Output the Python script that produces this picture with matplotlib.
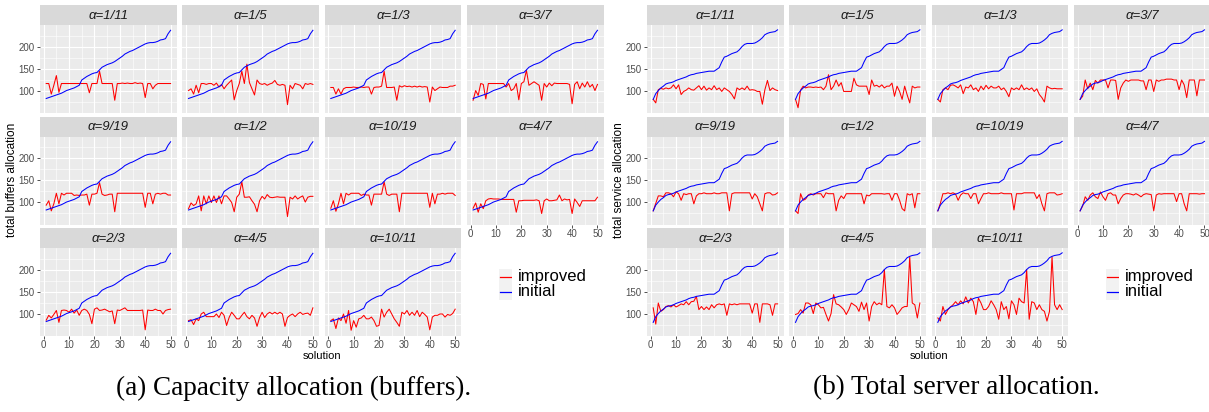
import numpy as np
import matplotlib.pyplot as plt

plt.rcParams['font.family'] = ['Liberation Sans', 'DejaVu Sans']

W, H = 1209, 412

solution = np.arange(1, 51)
alphas = ['1/11', '1/5', '1/3', '3/7', '9/19', '1/2', '10/19', '4/7', '2/3', '4/5', '10/11']

# (a) buffers: initial solution (same in every facet)
buf_initial = [82, 84, 86, 88, 90, 92, 94, 97, 100, 102,
               104, 106, 109, 112, 124, 128, 132, 135, 138, 140,
               141, 147, 153, 156, 159, 161, 163, 166, 170, 174,
               178, 183, 186, 189, 191, 194, 197, 200, 203, 206,
               208, 209, 209, 210, 212, 215, 216, 218, 229, 237]

buf_1_11 = [116, 116, 92, 112, 134, 96, 116, 116, 116, 116,
            116, 116, 116, 116, 116, 116, 116, 95, 116, 116,
            116, 144, 116, 116, 116, 116, 116, 78, 116, 116,
            117, 116, 117, 116, 116, 118, 116, 117, 116, 84,
            116, 116, 104, 112, 116, 116, 116, 116, 116, 116]
buf_1_5 = [100, 104, 92, 112, 95, 116, 116, 114, 116, 116,
           112, 117, 108, 114, 104, 112, 118, 124, 79, 100,
           116, 144, 116, 160, 118, 104, 90, 124, 116, 114,
           116, 112, 115, 117, 123, 114, 112, 114, 112, 68,
           112, 104, 116, 114, 112, 104, 116, 114, 116, 114]
buf_1_3 = [107, 107, 92, 104, 92, 104, 107, 107, 107, 108,
           107, 107, 108, 107, 108, 108, 92, 107, 108, 108,
           110, 144, 107, 107, 107, 108, 78, 111, 108, 111,
           109, 110, 108, 110, 108, 110, 108, 109, 108, 74,
           108, 100, 104, 108, 107, 107, 107, 110, 110, 112]
buf_3_7 = [78, 100, 89, 116, 114, 81, 116, 116, 116, 116,
           116, 116, 116, 108, 116, 100, 104, 116, 79, 116,
           120, 146, 112, 116, 120, 116, 112, 78, 116, 108,
           117, 111, 117, 116, 116, 116, 116, 116, 114, 70,
           114, 120, 104, 117, 108, 120, 108, 114, 100, 114]
buf_9_19 = [93, 103, 80, 96, 120, 96, 120, 116, 120, 120,
            120, 115, 116, 115, 116, 116, 118, 93, 118, 118,
            120, 144, 118, 115, 116, 118, 118, 78, 120, 120,
            120, 120, 120, 120, 120, 120, 120, 120, 120, 88,
            120, 120, 96, 118, 120, 118, 120, 120, 116, 116]
buf_1_2 = [85, 98, 92, 96, 114, 80, 114, 96, 114, 99,
           114, 99, 114, 96, 114, 114, 107, 99, 78, 111,
           118, 146, 111, 111, 112, 103, 95, 78, 103, 113,
           107, 117, 111, 110, 111, 112, 111, 111, 111, 67,
           111, 107, 114, 107, 111, 114, 100, 111, 113, 113]
buf_10_19 = [86, 103, 79, 96, 120, 96, 120, 116, 120, 120,
             120, 120, 115, 118, 116, 116, 93, 118, 118, 118,
             118, 146, 118, 115, 118, 118, 118, 78, 120, 120,
             120, 120, 120, 120, 120, 120, 120, 120, 120, 88,
             120, 96, 118, 118, 120, 118, 120, 120, 120, 115]
buf_4_7 = [86, 98, 77, 96, 85, 103, 107, 108, 107, 107,
           107, 106, 106, 106, 106, 106, 106, 77, 103, 103,
           104, 104, 104, 104, 104, 105, 103, 74, 103, 107,
           103, 103, 104, 105, 116, 103, 107, 105, 106, 74,
           107, 99, 90, 103, 103, 103, 103, 103, 103, 111]
buf_2_3 = [85, 96, 90, 98, 107, 80, 107, 108, 107, 103,
           110, 101, 108, 96, 107, 110, 107, 98, 77, 110,
           113, 107, 108, 110, 107, 104, 106, 77, 108, 107,
           110, 113, 107, 107, 107, 107, 107, 107, 108, 63,
           108, 107, 107, 110, 107, 107, 99, 107, 109, 110]
buf_4_5 = [84, 86, 75, 88, 84, 99, 103, 93, 93, 93,
           93, 99, 91, 103, 96, 73, 91, 103, 96, 88,
           88, 96, 103, 93, 88, 96, 90, 71, 91, 103,
           91, 99, 103, 99, 103, 99, 103, 99, 71, 91,
           96, 99, 93, 99, 103, 98, 100, 101, 96, 113]
buf_10_11 = [84, 88, 66, 90, 84, 99, 78, 107, 62, 84,
             69, 88, 90, 96, 88, 88, 92, 84, 71, 73,
             110, 92, 103, 110, 99, 88, 80, 71, 103, 99,
             107, 96, 103, 96, 107, 93, 103, 98, 92, 63,
             92, 96, 96, 99, 99, 92, 98, 96, 100, 110]

# (b) total server allocation
srv_initial = [80, 93, 100, 106, 110, 115, 117, 118, 120, 123,
               125, 127, 129, 131, 134, 136, 137, 139, 140, 141,
               142, 143, 144, 144, 144, 148, 152, 165, 176, 178,
               181, 184, 186, 188, 193, 200, 205, 207, 207, 207,
               208, 211, 215, 220, 227, 230, 232, 233, 234, 238]

srv_1_11 = [80, 72, 102, 105, 103, 106, 104, 106, 113, 104,
            113, 91, 98, 101, 106, 102, 101, 106, 111, 102,
            110, 101, 106, 102, 111, 102, 106, 98, 106, 102,
            98, 91, 81, 106, 102, 106, 102, 110, 101, 102,
            101, 98, 98, 69, 102, 123, 100, 106, 102, 100]
srv_1_5 = [80, 61, 101, 110, 106, 108, 108, 107, 108, 107,
           108, 102, 110, 136, 102, 110, 124, 110, 118, 98,
           98, 98, 98, 128, 113, 110, 110, 110, 110, 91,
           124, 110, 112, 108, 113, 106, 110, 110, 117, 87,
           110, 98, 80, 110, 90, 72, 110, 106, 108, 108]
srv_1_3 = [80, 74, 102, 106, 102, 112, 113, 110, 106, 113,
           93, 108, 106, 113, 102, 106, 98, 110, 102, 112,
           104, 110, 106, 106, 110, 102, 106, 98, 86, 106,
           102, 106, 102, 113, 102, 106, 102, 106, 98, 104,
           91, 84, 74, 110, 106, 104, 105, 104, 104, 104]
srv_3_7 = [80, 87, 124, 104, 117, 102, 123, 117, 124, 124,
           124, 106, 124, 124, 123, 80, 106, 117, 124, 121,
           124, 124, 124, 124, 122, 122, 102, 124, 124, 98,
           124, 121, 124, 124, 126, 126, 126, 124, 124, 102,
           124, 113, 84, 124, 124, 124, 88, 124, 124, 124]
srv_9_19 = [80, 97, 114, 114, 112, 121, 121, 119, 112, 123,
            119, 104, 119, 117, 119, 119, 96, 114, 119, 119,
            121, 119, 119, 119, 121, 119, 119, 121, 121, 121,
            80, 119, 121, 121, 121, 121, 121, 121, 121, 107,
            119, 112, 96, 80, 119, 121, 121, 116, 117, 121]
srv_1_2 = [80, 74, 119, 104, 107, 116, 119, 116, 119, 119,
           119, 110, 121, 119, 119, 119, 80, 104, 114, 108,
           119, 119, 119, 119, 119, 119, 119, 96, 116, 114,
           119, 119, 119, 119, 119, 118, 119, 119, 104, 119,
           119, 104, 85, 80, 119, 116, 119, 87, 119, 119]
srv_10_19 = [80, 97, 119, 119, 121, 119, 121, 118, 104, 116,
             121, 119, 119, 108, 119, 119, 96, 108, 119, 119,
             121, 119, 119, 119, 119, 121, 119, 119, 119, 119,
             82, 119, 119, 119, 121, 121, 121, 121, 121, 108,
             117, 96, 80, 119, 121, 121, 121, 116, 117, 119]
srv_4_7 = [80, 91, 112, 104, 116, 121, 112, 108, 123, 112,
           104, 119, 121, 116, 116, 96, 108, 116, 119, 119,
           118, 116, 119, 116, 112, 117, 119, 118, 117, 80,
           116, 119, 118, 119, 119, 119, 119, 119, 101, 119,
           119, 96, 80, 119, 119, 119, 119, 118, 119, 119]
srv_2_3 = [113, 76, 124, 105, 109, 116, 118, 115, 120, 115,
           118, 122, 120, 127, 120, 127, 128, 139, 109, 116,
           109, 115, 109, 120, 113, 120, 122, 120, 122, 96,
           122, 120, 122, 120, 122, 122, 122, 122, 122, 101,
           122, 122, 80, 122, 122, 122, 120, 96, 122, 122]
srv_4_5 = [98, 100, 109, 101, 124, 124, 120, 100, 124, 120,
           113, 114, 98, 83, 100, 143, 122, 120, 115, 109,
           98, 109, 124, 120, 116, 105, 126, 109, 124, 83,
           116, 127, 120, 124, 120, 200, 116, 113, 120, 113,
           98, 105, 113, 116, 116, 229, 124, 120, 90, 124]
srv_10_11 = [90, 83, 116, 98, 109, 115, 120, 127, 120, 129,
             122, 138, 124, 135, 127, 98, 135, 124, 109, 109,
             116, 129, 120, 109, 87, 127, 109, 116, 88, 129,
             120, 98, 135, 127, 124, 200, 87, 127, 124, 109,
             120, 109, 105, 83, 105, 229, 120, 109, 120, 109]

buf_improved = [buf_1_11, buf_1_5, buf_1_3, buf_3_7, buf_9_19, buf_1_2,
                buf_10_19, buf_4_7, buf_2_3, buf_4_5, buf_10_11]
srv_improved = [srv_1_11, srv_1_5, srv_1_3, srv_3_7, srv_9_19, srv_1_2,
                srv_10_19, srv_4_7, srv_2_3, srv_4_5, srv_10_11]

fig = plt.figure(figsize=(W / 100, H / 100), dpi=100)


def px_axes(x0, y0, x1, y1):
    return fig.add_axes([x0 / W, 1 - y1 / H, (x1 - x0) / W, (y1 - y0) / H])


def draw_chart(x0, initial, improved_all, ylabel, caption, caption_x):
    pitch, pw = 142.3, 136.8
    for k, (alpha, improved) in enumerate(zip(alphas, improved_all)):
        r, c = divmod(k, 4)
        left = x0 + c * pitch
        top = 5 + r * 111.5
        strip = px_axes(left, top, left + pw, top + 20)
        strip.set_facecolor('#D9D9D9')
        strip.set_xticks([]); strip.set_yticks([])
        for s in strip.spines.values():
            s.set_visible(False)
        strip.text(0.5, 0.47, 'α=' + alpha, style='italic', fontsize=9.5,
                   color='#1A1A1A', ha='center', va='center', transform=strip.transAxes)

        ax = px_axes(left, top + 20, left + pw, top + 108)
        ax.set_facecolor('#EBEBEB')
        ax.plot(solution, improved, color='#FF0000', lw=0.75)
        ax.plot(solution, initial, color='#0000FF', lw=0.75)
        ax.set_xlim(-1.45, 52.45)
        ax.set_ylim(49, 249)
        ax.set_xticks(range(0, 51, 10))
        ax.set_xticks(range(5, 50, 10), minor=True)
        ax.set_yticks([100, 150, 200])
        ax.set_yticks([75, 125, 175, 225], minor=True)
        ax.grid(which='major', color='white', lw=0.85)
        ax.grid(which='minor', color='white', lw=0.4)
        ax.set_axisbelow(True)
        for s in ax.spines.values():
            s.set_visible(False)
        ax.tick_params(which='minor', length=0)
        show_x = r == 2 or (r == 1 and c == 3)
        show_y = c == 0
        ax.tick_params(axis='x', length=2.2 if show_x else 0, width=0.6, color='#333333',
                       labelbottom=show_x, labelsize=7, labelcolor='#4D4D4D', pad=1)
        ax.tick_params(axis='y', length=2.2 if show_y else 0, width=0.6, color='#333333',
                       labelleft=show_y, labelsize=7, labelcolor='#4D4D4D', pad=1.5)

    right = x0 + 3 * pitch + pw
    fig.text((x0 - 28) / W, 1 - 180 / H, ylabel, rotation=90, fontsize=8.5,
             ha='center', va='center')
    fig.text((x0 + right) / 2 / W, 1 - 356 / H, 'solution', fontsize=8,
             ha='center', va='center')

    # legend in the empty 12th slot
    kx = x0 + 3 * pitch + 32
    key = px_axes(kx, 269, kx + 13, 300)
    key.set_facecolor('#F2F2F2')
    key.set_xlim(0, 1); key.set_ylim(0, 2)
    key.plot([0.1, 0.9], [1.5, 1.5], color='#FF0000', lw=0.9)
    key.plot([0.1, 0.9], [0.5, 0.5], color='#0000FF', lw=0.9)
    key.set_xticks([]); key.set_yticks([])
    for s in key.spines.values():
        s.set_visible(False)
    fig.text((kx + 19) / W, 1 - 277 / H, 'improved', fontsize=12, va='center')
    fig.text((kx + 19) / W, 1 - 292 / H, 'initial', fontsize=12, va='center')

    fig.text(caption_x / W, 1 - 388 / H, caption, fontsize=19.5,
             family=['Liberation Serif', 'DejaVu Serif'], ha='center', va='center')


draw_chart(40, buf_initial, buf_improved, 'total buffers allocation',
           '(a) Capacity allocation (buffers).', 294)
draw_chart(647, srv_initial, srv_improved, 'total service allocation',
           '(b) Total server allocation.', 956)

fig.savefig('out.png', dpi=100)
